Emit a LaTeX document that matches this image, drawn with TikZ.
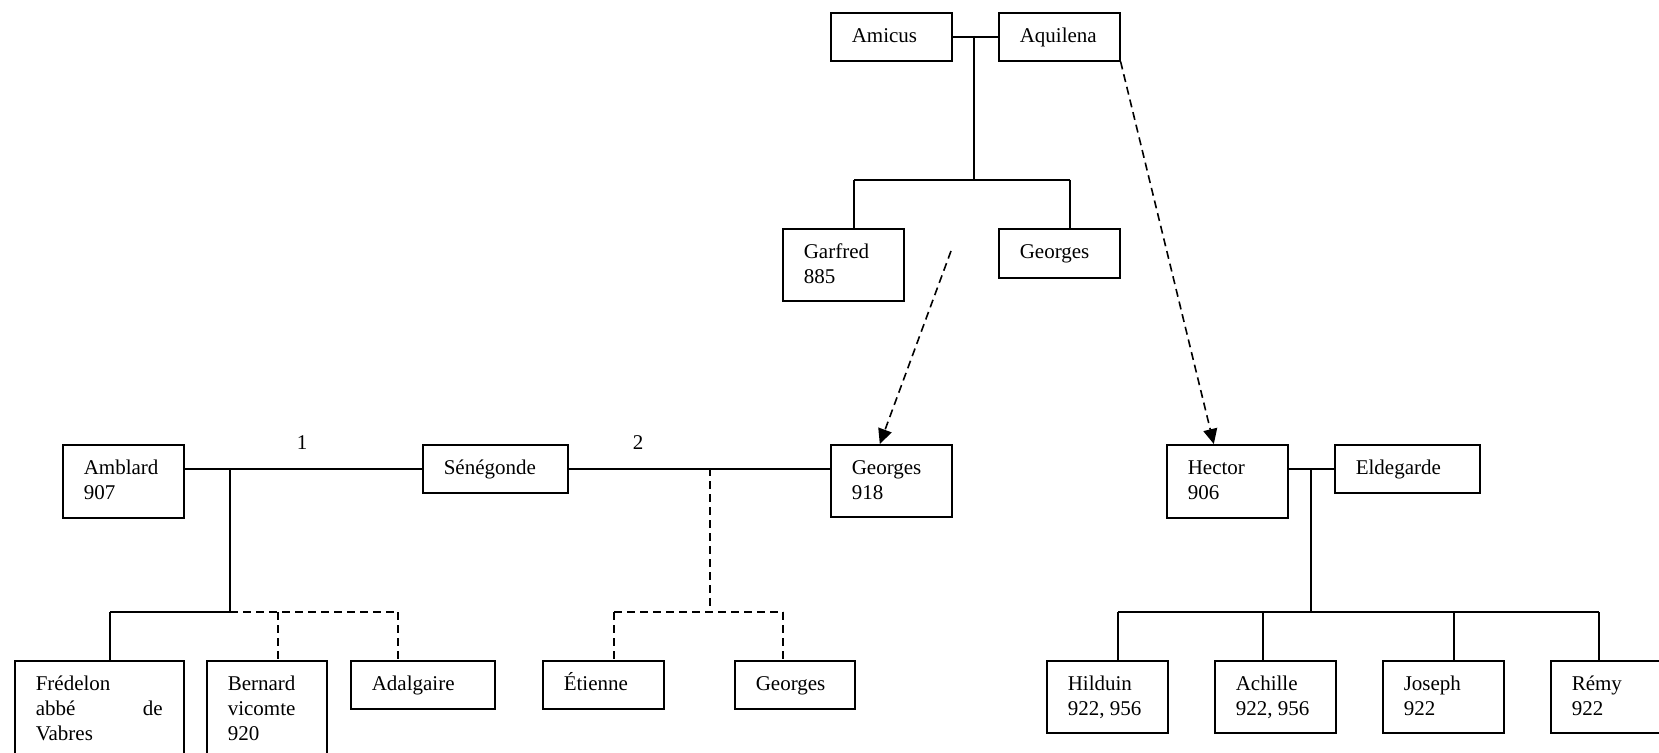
\documentclass[tikz,border=0pt]{standalone}
\usepackage{fontspec}
\setmainfont{Liberation Serif}
\usetikzlibrary{arrows.meta}
\newcommand\famnode[7]{%
  \node[boxnode, minimum width=#4*0.5pt, minimum height=#5*0.5pt] (#1) at (#2,#3) {};
  \node[txt,#7] (#1t) at ([shift={(21,12)}]#1.north west) {\rule{0pt}{9pt}#6};}
\begin{document}
\begin{tikzpicture}[x=0.5pt,y=-0.5pt,
  line width=0.8pt,
  boxnode/.style={draw, rectangle, anchor=north west, inner sep=0pt},
  txt/.style={anchor=north west, inner sep=0pt, align=left, font=\fontsize{10.5}{12.5}\selectfont},
  dsh/.style={dash pattern=on 4pt off 2.5pt},
  arr/.style={dsh, -{Triangle[length=7.5pt,width=7pt]}},
  numlabel/.style={inner sep=0pt, font=\fontsize{10.5}{12.5}\selectfont}
]
\path[use as bounding box] (0,0) rectangle (1659,753);
\clip (0,0) rectangle (1659,753);

% top generation
\famnode{amicus}{830}{12}{121}{48}{Amicus}{}
\famnode{aquilena}{998}{12}{121}{48}{Aquilena}{}
\famnode{garfred}{782}{228}{121}{72}{Garfred\\885}{}
\famnode{georgesA}{998}{228}{121}{49}{Georges}{}

% middle generation
\famnode{amblard}{62}{444}{121}{73}{Amblard\\907}{}
\famnode{senegonde}{422}{444}{145}{48}{Sénégonde}{}
\famnode{georgesM}{830}{444}{121}{72}{Georges\\918}{}
\famnode{hector}{1166}{444}{121}{73}{Hector\\906}{}
\famnode{eldegarde}{1334}{444}{145}{48}{Eldegarde}{}

% bottom generation
\famnode{fredelon}{14}{660}{169}{100}{Frédelon\\abbé\hfill de\\Vabres}{text width=63.5pt}
\famnode{bernard}{206}{660}{120}{100}{Bernard\\vicomte\\920}{}
\famnode{adalgaire}{350}{660}{144}{48}{Adalgaire}{}
\famnode{etienne}{542}{660}{121}{48}{Étienne}{}
\famnode{georgesB}{734}{660}{120}{48}{Georges}{}
\famnode{hilduin}{1046}{660}{121}{72}{Hilduin\\922, 956}{}
\famnode{achille}{1214}{660}{121}{72}{Achille\\922, 956}{}
\famnode{joseph}{1382}{660}{121}{72}{Joseph\\922}{}
\famnode{remy}{1550}{660}{121}{72}{Rémy\\922}{}

% labels
\node[numlabel] (n1) at (302,443) {1};
\node[numlabel] (n2) at (638,443) {2};

% Amicus + Aquilena
\coordinate (m1) at (974,36);
\coordinate (j1) at (974,180);
\coordinate (d1) at (854,180);
\coordinate (d2) at (1070,180);
\draw (amicus.east) -- (aquilena.west);
\draw (m1) -- (j1);
\draw (d1) -- (d2);
\draw (d1) -- (d1 |- garfred.north);
\draw (d2) -- (d2 |- georgesA.north);

% Amblard + Sénégonde (1)
\coordinate (m2) at (230,468);
\coordinate (j2) at (230,612);
\coordinate (e1) at (110,612);
\coordinate (e2) at (278,612);
\coordinate (e3) at (398,612);
\draw (senegonde.west -| amblard.east) -- (senegonde.west);
\draw (m2) -- (j2);
\draw (e1) -- (j2);
\draw[dsh] (j2) -- (e3);
\draw (e1) -- (e1 |- fredelon.north);
\draw[dsh] (e2) -- (e2 |- bernard.north);
\draw[dsh] (e3) -- (e3 |- adalgaire.north);

% Sénégonde + Georges (2)
\coordinate (m3) at (710,468);
\coordinate (j3) at (710,612);
\coordinate (f1) at (614,612);
\coordinate (f2) at (783,612);
\draw (senegonde.east) -- (senegonde.east -| georgesM.west);
\draw[dsh] (m3) -- (j3);
\draw[dsh] (f1) -- (f2);
\draw[dsh] (f1) -- (f1 |- etienne.north);
\draw[dsh] (f2) -- (f2 |- georgesB.north);

% Hector + Eldegarde
\coordinate (m4) at (1311,468);
\coordinate (j4) at (1311,612);
\coordinate (g1) at (1118,612);
\coordinate (g2) at (1263,612);
\coordinate (g3) at (1454,612);
\coordinate (g4) at (1599,612);
\draw (eldegarde.west -| hector.east) -- (eldegarde.west);
\draw (m4) -- (j4);
\draw (g1) -- (g4);
\draw (g1) -- (g1 |- hilduin.north);
\draw (g2) -- (g2 |- achille.north);
\draw (g3) -- (g3 |- joseph.north);
\draw (g4) -- (g4 |- remy.north);

% dashed arrows
\coordinate (a1) at (951,251);
\draw[arr] (a1) -- ([xshift=-5.75pt]georgesM.north);
\draw[arr] (aquilena.south east) -- ([xshift=-6.75pt]hector.north);
\end{tikzpicture}
\end{document}
